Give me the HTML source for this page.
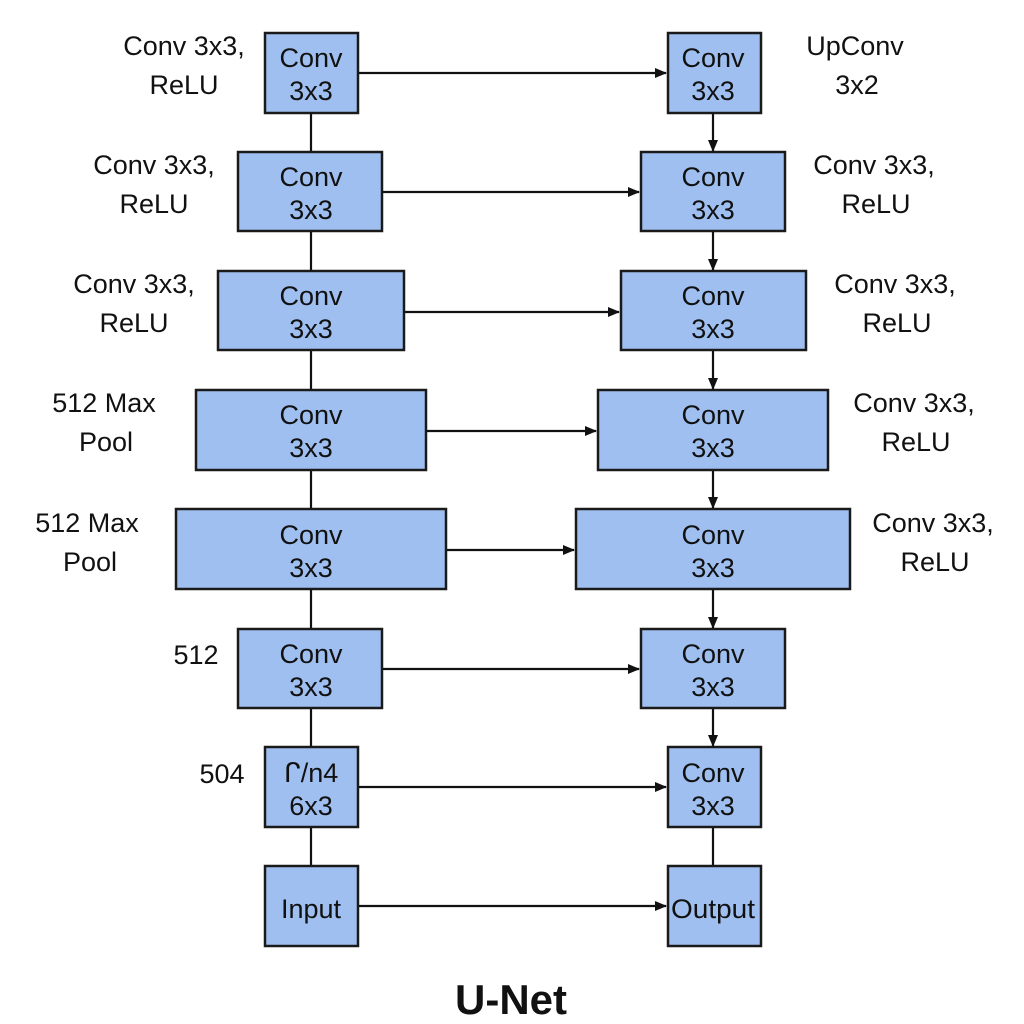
<!DOCTYPE html>
<html><head><meta charset="utf-8"><style>
html,body{margin:0;padding:0;background:#fff;}
svg{display:block;}
text{font-family:"Liberation Sans",sans-serif;fill:#111;}
</style></head><body>
<svg width="1024" height="1024" viewBox="0 0 1024 1024">
<defs><marker id="a" markerWidth="12" markerHeight="10" refX="11" refY="5" orient="auto" markerUnits="userSpaceOnUse"><path d="M0,0 L12,5 L0,10 z" fill="#111"/></marker></defs>
<rect width="1024" height="1024" fill="#fff"/>
<g stroke="#111" stroke-width="2.2" fill="none">
<!-- left vertical -->
<line x1="311" y1="113" x2="311" y2="866"/>
<!-- right vertical arrows -->
<line x1="713" y1="113" x2="713" y2="151" marker-end="url(#a)"/>
<line x1="713" y1="231" x2="713" y2="270" marker-end="url(#a)"/>
<line x1="713" y1="350" x2="713" y2="389" marker-end="url(#a)"/>
<line x1="713" y1="470" x2="713" y2="508" marker-end="url(#a)"/>
<line x1="713" y1="589" x2="713" y2="628" marker-end="url(#a)"/>
<line x1="713" y1="708" x2="713" y2="746" marker-end="url(#a)"/>
<line x1="713" y1="827" x2="713" y2="866"/>
<!-- horizontal arrows -->
<line x1="358" y1="73" x2="666" y2="73" marker-end="url(#a)"/>
<line x1="382" y1="192" x2="639" y2="192" marker-end="url(#a)"/>
<line x1="404" y1="312" x2="619" y2="312" marker-end="url(#a)"/>
<line x1="426" y1="431" x2="596" y2="431" marker-end="url(#a)"/>
<line x1="446" y1="550" x2="574" y2="550" marker-end="url(#a)"/>
<line x1="382" y1="669" x2="639" y2="669" marker-end="url(#a)"/>
<line x1="358" y1="787" x2="666" y2="787" marker-end="url(#a)"/>
<line x1="358" y1="906" x2="666" y2="906" marker-end="url(#a)"/>
</g>
<g fill="#9ebff0" stroke="#1a1a1a" stroke-width="2.5">
<rect x="265" y="33" width="93" height="80"/>
<rect x="238" y="152" width="144" height="79"/>
<rect x="218" y="271" width="186" height="79"/>
<rect x="196" y="390" width="230" height="80"/>
<rect x="176" y="509" width="270" height="80"/>
<rect x="238" y="629" width="144" height="79"/>
<rect x="265" y="747" width="93" height="80"/>
<rect x="265" y="866" width="93" height="80"/>
<rect x="668" y="33" width="93" height="80"/>
<rect x="641" y="152" width="144" height="79"/>
<rect x="621" y="271" width="185" height="79"/>
<rect x="598" y="390" width="230" height="80"/>
<rect x="576" y="509" width="274" height="80"/>
<rect x="641" y="629" width="144" height="79"/>
<rect x="668" y="747" width="93" height="80"/>
<rect x="668" y="866" width="93" height="80"/>
</g>
<g font-size="27" text-anchor="middle">
<text x="311" y="67">Conv</text><text x="311" y="100">3x3</text>
<text x="311" y="186">Conv</text><text x="311" y="219">3x3</text>
<text x="311" y="305">Conv</text><text x="311" y="338">3x3</text>
<text x="311" y="424">Conv</text><text x="311" y="457">3x3</text>
<text x="311" y="544">Conv</text><text x="311" y="577">3x3</text>
<text x="311" y="663">Conv</text><text x="311" y="696">3x3</text>
<text x="311" y="782">ᒋ/n4</text><text x="311" y="815">6x3</text>
<text x="311" y="918">Input</text>
<text x="713" y="67">Conv</text><text x="713" y="100">3x3</text>
<text x="713" y="186">Conv</text><text x="713" y="219">3x3</text>
<text x="713" y="305">Conv</text><text x="713" y="338">3x3</text>
<text x="713" y="424">Conv</text><text x="713" y="457">3x3</text>
<text x="713" y="544">Conv</text><text x="713" y="577">3x3</text>
<text x="713" y="663">Conv</text><text x="713" y="696">3x3</text>
<text x="713" y="782">Conv</text><text x="713" y="815">3x3</text>
<text x="713" y="918" textLength="84" lengthAdjust="spacingAndGlyphs">Output</text>
<!-- left labels -->
<text x="184" y="55">Conv 3x3,</text><text x="184" y="94">ReLU</text>
<text x="154" y="174">Conv 3x3,</text><text x="154" y="213">ReLU</text>
<text x="134" y="293">Conv 3x3,</text><text x="134" y="332">ReLU</text>
<text x="104" y="412">512 Max</text><text x="106" y="451">Pool</text>
<text x="87" y="532">512 Max</text><text x="90" y="571">Pool</text>
<text x="196" y="664">512</text>
<text x="222" y="783">504</text>
<!-- right labels -->
<text x="855" y="55">UpConv</text><text x="857" y="94">3x2</text>
<text x="874" y="174">Conv 3x3,</text><text x="876" y="213">ReLU</text>
<text x="895" y="293">Conv 3x3,</text><text x="897" y="332">ReLU</text>
<text x="914" y="412">Conv 3x3,</text><text x="916" y="451">ReLU</text>
<text x="933" y="532">Conv 3x3,</text><text x="935" y="571">ReLU</text>
</g>
<text x="511" y="1014" font-size="42" font-weight="bold" text-anchor="middle">U-Net</text>
</svg>
</body></html>
